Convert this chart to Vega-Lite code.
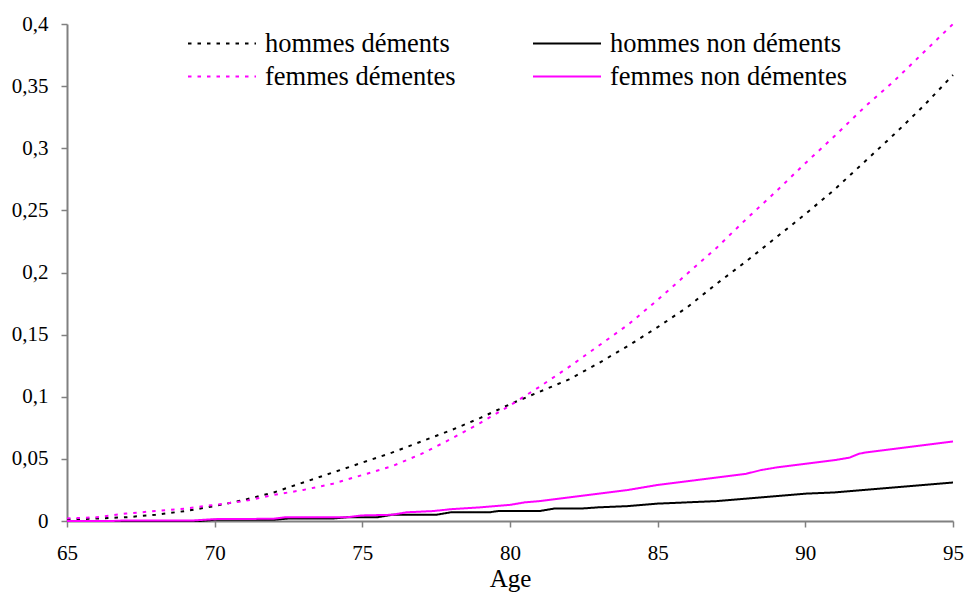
{
  "$schema": "https://vega.github.io/schema/vega-lite/v6.json",
  "width": 886,
  "height": 497,
  "autosize": "none",
  "padding": {"left": 67, "top": 24, "right": 11, "bottom": 73},
  "background": "white",
  "config": {
    "font": "Liberation Serif",
    "view": {"stroke": null},
    "axis": {
      "domainColor": "#808080",
      "domainWidth": 2,
      "tickColor": "#808080",
      "tickWidth": 1.5,
      "tickSize": 6,
      "grid": false,
      "labelFont": "Liberation Serif",
      "labelFontSize": 21,
      "labelColor": "#000000",
      "titleFont": "Liberation Serif",
      "titleFontWeight": "normal",
      "titleColor": "#000000"
    },
    "legend": {"labelFont": "Liberation Serif"}
  },
  "data": {
    "values": [
      {"age": 65, "serie": "hommes déments", "taux": 0.001},
      {"age": 66, "serie": "hommes déments", "taux": 0.002},
      {"age": 67, "serie": "hommes déments", "taux": 0.003},
      {"age": 68, "serie": "hommes déments", "taux": 0.005},
      {"age": 69, "serie": "hommes déments", "taux": 0.008},
      {"age": 70, "serie": "hommes déments", "taux": 0.012},
      {"age": 71, "serie": "hommes déments", "taux": 0.017},
      {"age": 72, "serie": "hommes déments", "taux": 0.023},
      {"age": 73, "serie": "hommes déments", "taux": 0.031},
      {"age": 74, "serie": "hommes déments", "taux": 0.039},
      {"age": 75, "serie": "hommes déments", "taux": 0.047},
      {"age": 76, "serie": "hommes déments", "taux": 0.055},
      {"age": 77, "serie": "hommes déments", "taux": 0.064},
      {"age": 78, "serie": "hommes déments", "taux": 0.073},
      {"age": 79, "serie": "hommes déments", "taux": 0.083},
      {"age": 80, "serie": "hommes déments", "taux": 0.094},
      {"age": 81, "serie": "hommes déments", "taux": 0.104},
      {"age": 82, "serie": "hommes déments", "taux": 0.114},
      {"age": 83, "serie": "hommes déments", "taux": 0.127},
      {"age": 84, "serie": "hommes déments", "taux": 0.141},
      {"age": 85, "serie": "hommes déments", "taux": 0.156},
      {"age": 86, "serie": "hommes déments", "taux": 0.172},
      {"age": 87, "serie": "hommes déments", "taux": 0.191},
      {"age": 88, "serie": "hommes déments", "taux": 0.209},
      {"age": 89, "serie": "hommes déments", "taux": 0.228},
      {"age": 90, "serie": "hommes déments", "taux": 0.247},
      {"age": 91, "serie": "hommes déments", "taux": 0.267},
      {"age": 92, "serie": "hommes déments", "taux": 0.289},
      {"age": 93, "serie": "hommes déments", "taux": 0.311},
      {"age": 94, "serie": "hommes déments", "taux": 0.334},
      {"age": 95, "serie": "hommes déments", "taux": 0.359},

      {"age": 65, "serie": "femmes démentes", "taux": 0.002},
      {"age": 66, "serie": "femmes démentes", "taux": 0.003},
      {"age": 67, "serie": "femmes démentes", "taux": 0.006},
      {"age": 68, "serie": "femmes démentes", "taux": 0.008},
      {"age": 69, "serie": "femmes démentes", "taux": 0.010},
      {"age": 70, "serie": "femmes démentes", "taux": 0.013},
      {"age": 71, "serie": "femmes démentes", "taux": 0.016},
      {"age": 72, "serie": "femmes démentes", "taux": 0.021},
      {"age": 73, "serie": "femmes démentes", "taux": 0.025},
      {"age": 74, "serie": "femmes démentes", "taux": 0.030},
      {"age": 75, "serie": "femmes démentes", "taux": 0.037},
      {"age": 76, "serie": "femmes démentes", "taux": 0.044},
      {"age": 77, "serie": "femmes démentes", "taux": 0.054},
      {"age": 78, "serie": "femmes démentes", "taux": 0.066},
      {"age": 79, "serie": "femmes démentes", "taux": 0.079},
      {"age": 80, "serie": "femmes démentes", "taux": 0.093},
      {"age": 81, "serie": "femmes démentes", "taux": 0.108},
      {"age": 82, "serie": "femmes démentes", "taux": 0.124},
      {"age": 83, "serie": "femmes démentes", "taux": 0.141},
      {"age": 84, "serie": "femmes démentes", "taux": 0.158},
      {"age": 85, "serie": "femmes démentes", "taux": 0.178},
      {"age": 86, "serie": "femmes démentes", "taux": 0.199},
      {"age": 87, "serie": "femmes démentes", "taux": 0.220},
      {"age": 88, "serie": "femmes démentes", "taux": 0.243},
      {"age": 89, "serie": "femmes démentes", "taux": 0.265},
      {"age": 90, "serie": "femmes démentes", "taux": 0.288},
      {"age": 91, "serie": "femmes démentes", "taux": 0.310},
      {"age": 92, "serie": "femmes démentes", "taux": 0.333},
      {"age": 93, "serie": "femmes démentes", "taux": 0.354},
      {"age": 94, "serie": "femmes démentes", "taux": 0.377},
      {"age": 95, "serie": "femmes démentes", "taux": 0.400},

      {"age": 65, "serie": "hommes non déments", "taux": 0.0},
      {"age": 69.5, "serie": "hommes non déments", "taux": 0.0},
      {"age": 70, "serie": "hommes non déments", "taux": 0.001},
      {"age": 72, "serie": "hommes non déments", "taux": 0.001},
      {"age": 72.5, "serie": "hommes non déments", "taux": 0.002},
      {"age": 74, "serie": "hommes non déments", "taux": 0.002},
      {"age": 74.5, "serie": "hommes non déments", "taux": 0.003},
      {"age": 75.5, "serie": "hommes non déments", "taux": 0.003},
      {"age": 76, "serie": "hommes non déments", "taux": 0.005},
      {"age": 77.5, "serie": "hommes non déments", "taux": 0.005},
      {"age": 78, "serie": "hommes non déments", "taux": 0.007},
      {"age": 79.3, "serie": "hommes non déments", "taux": 0.007},
      {"age": 79.6, "serie": "hommes non déments", "taux": 0.008},
      {"age": 81, "serie": "hommes non déments", "taux": 0.008},
      {"age": 81.5, "serie": "hommes non déments", "taux": 0.010},
      {"age": 82.4, "serie": "hommes non déments", "taux": 0.010},
      {"age": 83, "serie": "hommes non déments", "taux": 0.011},
      {"age": 84, "serie": "hommes non déments", "taux": 0.012},
      {"age": 85, "serie": "hommes non déments", "taux": 0.014},
      {"age": 86, "serie": "hommes non déments", "taux": 0.015},
      {"age": 87, "serie": "hommes non déments", "taux": 0.016},
      {"age": 88, "serie": "hommes non déments", "taux": 0.018},
      {"age": 89, "serie": "hommes non déments", "taux": 0.020},
      {"age": 90, "serie": "hommes non déments", "taux": 0.022},
      {"age": 91, "serie": "hommes non déments", "taux": 0.023},
      {"age": 92, "serie": "hommes non déments", "taux": 0.025},
      {"age": 93, "serie": "hommes non déments", "taux": 0.027},
      {"age": 94, "serie": "hommes non déments", "taux": 0.029},
      {"age": 95, "serie": "hommes non déments", "taux": 0.031},

      {"age": 65, "serie": "femmes non démentes", "taux": 0.0},
      {"age": 66.5, "serie": "femmes non démentes", "taux": 0.0},
      {"age": 67, "serie": "femmes non démentes", "taux": 0.0005},
      {"age": 69.3, "serie": "femmes non démentes", "taux": 0.0005},
      {"age": 70, "serie": "femmes non démentes", "taux": 0.0015},
      {"age": 72, "serie": "femmes non démentes", "taux": 0.0018},
      {"age": 72.4, "serie": "femmes non démentes", "taux": 0.003},
      {"age": 74.5, "serie": "femmes non démentes", "taux": 0.003},
      {"age": 75, "serie": "femmes non démentes", "taux": 0.0045},
      {"age": 76, "serie": "femmes non démentes", "taux": 0.005},
      {"age": 76.5, "serie": "femmes non démentes", "taux": 0.007},
      {"age": 77.4, "serie": "femmes non démentes", "taux": 0.008},
      {"age": 78, "serie": "femmes non démentes", "taux": 0.0095},
      {"age": 79, "serie": "femmes non démentes", "taux": 0.011},
      {"age": 80, "serie": "femmes non démentes", "taux": 0.013},
      {"age": 80.5, "serie": "femmes non démentes", "taux": 0.015},
      {"age": 81, "serie": "femmes non démentes", "taux": 0.016},
      {"age": 82, "serie": "femmes non démentes", "taux": 0.019},
      {"age": 83, "serie": "femmes non démentes", "taux": 0.022},
      {"age": 84, "serie": "femmes non démentes", "taux": 0.025},
      {"age": 85, "serie": "femmes non démentes", "taux": 0.029},
      {"age": 86, "serie": "femmes non démentes", "taux": 0.032},
      {"age": 87, "serie": "femmes non démentes", "taux": 0.035},
      {"age": 88, "serie": "femmes non démentes", "taux": 0.038},
      {"age": 88.5, "serie": "femmes non démentes", "taux": 0.041},
      {"age": 89, "serie": "femmes non démentes", "taux": 0.043},
      {"age": 90, "serie": "femmes non démentes", "taux": 0.046},
      {"age": 91, "serie": "femmes non démentes", "taux": 0.049},
      {"age": 91.5, "serie": "femmes non démentes", "taux": 0.051},
      {"age": 91.8, "serie": "femmes non démentes", "taux": 0.054},
      {"age": 92, "serie": "femmes non démentes", "taux": 0.055},
      {"age": 93, "serie": "femmes non démentes", "taux": 0.058},
      {"age": 94, "serie": "femmes non démentes", "taux": 0.061},
      {"age": 95, "serie": "femmes non démentes", "taux": 0.064}
    ]
  },
  "mark": {"type": "line", "strokeWidth": 2, "clip": false},
  "encoding": {
    "x": {
      "field": "age",
      "type": "quantitative",
      "scale": {"domain": [65, 95], "nice": false, "zero": false},
      "axis": {
        "title": "Age",
        "titleFontSize": 25,
        "titlePadding": 3,
        "values": [65, 70, 75, 80, 85, 90, 95],
        "labelPadding": 15,
        "labelFlush": false
      }
    },
    "y": {
      "field": "taux",
      "type": "quantitative",
      "scale": {"domain": [0, 0.4], "nice": false},
      "axis": {
        "title": null,
        "values": [0, 0.05, 0.1, 0.15, 0.2, 0.25, 0.3, 0.35, 0.4],
        "labelExpr": "replace(format(datum.value, '.2~f'), '.', ',')",
        "labelPadding": 13
      }
    },
    "color": {
      "field": "serie",
      "type": "nominal",
      "scale": {
        "domain": ["hommes déments", "femmes démentes", "hommes non déments", "femmes non démentes"],
        "range": ["#000000", "#ff00ff", "#000000", "#ff00ff"]
      },
      "legend": {
        "title": null,
        "orient": "none",
        "legendX": 120,
        "legendY": 7,
        "columns": 2,
        "columnPadding": 76,
        "rowPadding": 6,
        "clipHeight": 25,
        "padding": 0,
        "symbolType": "stroke",
        "symbolSize": 4624,
        "symbolStrokeWidth": 2,
        "labelFontSize": 26.5,
        "labelColor": "#000000",
        "labelOffset": 8,
        "labelLimit": 400
      }
    },
    "strokeDash": {
      "field": "serie",
      "type": "nominal",
      "scale": {
        "domain": ["hommes déments", "femmes démentes", "hommes non déments", "femmes non démentes"],
        "range": [[3.5, 6], [3.5, 6], [1, 0], [1, 0]]
      },
      "legend": null
    }
  }
}
